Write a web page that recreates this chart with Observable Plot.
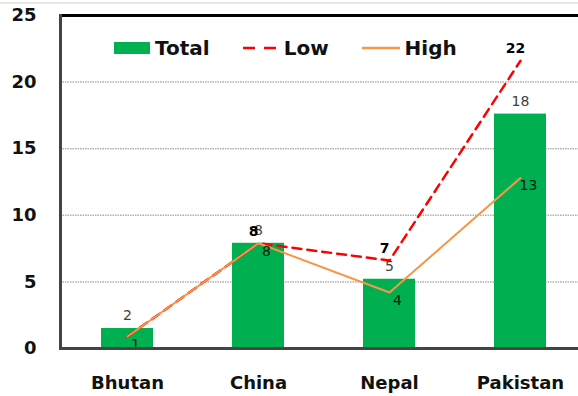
<!DOCTYPE html>
<html>
<head>
<meta charset="utf-8">
<script src="https://cdn.jsdelivr.net/npm/d3@7"></script>
<script src="https://cdn.jsdelivr.net/npm/@observablehq/plot@0.6"></script>
<style>
  body { margin: 0; background: #fff; font-family: "DejaVu Sans", sans-serif; }
  #wrap { position: relative; width: 578px; height: 396px; overflow: hidden; }
  #topline { position: absolute; left: 0; top: 2px; width: 578px; height: 2px; background: #e6e6e6; }
  #legend { position: absolute; left: 114px; top: 36px; display: flex; align-items: center; font: bold 20px "DejaVu Sans", sans-serif; color: #111; }
  #legend .item { display: flex; align-items: center; margin-right: 33px; }
  #legend svg { margin-right: 5px; }
</style>
</head>
<body>
<div id="wrap"><div id="topline"></div><div id="chart"></div><div id="legend"></div></div>
<script>
const categories = ["Bhutan", "China", "Nepal", "Pakistan"];
const totalValues = [1.5, 7.9, 5.2, 17.6];
const totalLabels = ["2", "8", "5", "18"];
const lowValues = [0.9, 7.9, 6.6, 21.6];
const lowLabels = ["", "8", "7", "22"];
const highValues = [0.9, 7.9, 4.2, 12.8];
const highLabels = ["1", "8", "4", "13"];
const yTicks = [0, 5, 10, 15, 20, 25];
const seriesNames = ["Total", "Low", "High"];

const totalData = categories.map((c, i) => ({cat: c, v: totalValues[i], label: totalLabels[i]}));
const lowData = categories.map((c, i) => ({cat: c, v: lowValues[i], label: lowLabels[i]}));
const highData = categories.map((c, i) => ({cat: c, v: highValues[i], label: highLabels[i]}));

const green = "#00B050", red = "#FF0000", orange = "#F79646";

const chart = Plot.plot({
  width: 578,
  height: 396,
  marginLeft: 60,
  marginTop: 15,
  marginBottom: 48,
  marginRight: 0,
  style: {fontFamily: "DejaVu Sans, sans-serif", background: "transparent"},
  x: {domain: categories, range: [60, 587], paddingInner: 0.6, paddingOuter: 0.3, align: 0.5, label: null},
  y: {domain: [0, 25], label: null},
  marks: [
    Plot.ruleY(yTicks.filter(d => d > 0 && d < 25), {stroke: "#b0b0b0", strokeWidth: 1.5, strokeDasharray: "1.5,1"}),
    Plot.barY(totalData, {x: "cat", y: "v", fill: green}),
    Plot.line(lowData, {x: "cat", y: "v", stroke: red, strokeWidth: 2.5, strokeDasharray: "9,6"}),
    Plot.line(highData, {x: "cat", y: "v", stroke: orange, strokeWidth: 2}),
    Plot.text(totalData, {x: "cat", y: "v", text: "label", dy: -13, fill: "#404040", fontSize: 14}),
    Plot.text(lowData, {x: "cat", y: "v", text: "label", dy: -12, dx: -5, fill: "#000", fontSize: 14, fontWeight: "bold"}),
    Plot.text(highData, {x: "cat", y: "v", text: "label", dy: 8, dx: 8, fill: "#0a1a0a", fontSize: 14}),
    Plot.ruleY([25], {stroke: "#000", strokeWidth: 3}),
    Plot.ruleY([0], {stroke: "#444", strokeWidth: 3}),
    Plot.frame({anchor: "left", stroke: "#444", strokeWidth: 3}),
    Plot.axisY({ticks: yTicks, tickSize: 0, tickPadding: 24, fontSize: 18, fontWeight: "bold", fill: "#111", label: null}),
    Plot.axisX({tickSize: 0, tickPadding: 28, fontSize: 18, fontWeight: "bold", fill: "#111", label: null})
  ]
});
document.getElementById("chart").appendChild(chart);

// legend (HTML)
const legend = document.getElementById("legend");
const swatches = {
  Total: `<svg width="36" height="16"><rect x="0" y="2" width="36" height="12" fill="${green}"/></svg>`,
  Low: `<svg width="36" height="16"><line x1="0" y1="8" x2="36" y2="8" stroke="${red}" stroke-width="2.5" stroke-dasharray="12,9"/></svg>`,
  High: `<svg width="38" height="16"><line x1="0" y1="8" x2="38" y2="8" stroke="${orange}" stroke-width="2.5"/></svg>`
};
seriesNames.forEach(n => {
  const d = document.createElement("div");
  d.className = "item";
  d.innerHTML = swatches[n] + `<span>${n}</span>`;
  legend.appendChild(d);
});
</script>
</body>
</html>
